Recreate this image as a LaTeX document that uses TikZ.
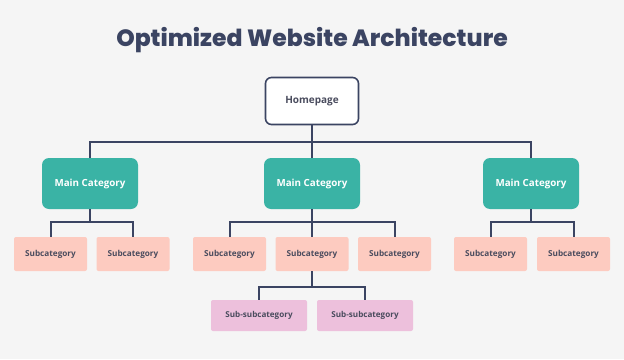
\documentclass[tikz,border=0pt]{standalone}
\usepackage{fontspec}
\setmainfont{Open Sans}[BoldFont={Open Sans Bold}]
\newfontfamily\titlefont{Poppins}[BoldFont={Poppins ExtraBold}]
\usetikzlibrary{positioning}

\definecolor{bgGrey}{HTML}{F5F5F5}
\definecolor{navy}{HTML}{3B4462}
\definecolor{teal}{HTML}{3AB3A5}
\definecolor{salmon}{HTML}{FDCBC0}
\definecolor{orchid}{HTML}{EDC0DC}
\definecolor{labelGrey}{HTML}{4A4C5E}

\tikzset{
  link/.style={draw=navy, line width=2pt},
  homebox/.style={draw=navy, line width=1.6pt, fill=white, rounded corners=6pt,
    minimum width=93pt, minimum height=47pt, font=\bfseries\fontsize{10}{12}\selectfont, text=labelGrey},
  mainbox/.style={fill=teal, rounded corners=7pt, minimum width=96pt, minimum height=51pt,
    font=\bfseries\fontsize{9.8}{12}\selectfont, text=white},
  subbox/.style={fill=salmon, rounded corners=2pt, minimum width=73pt, minimum height=34pt,
    font=\bfseries\fontsize{8.2}{10}\selectfont, text=labelGrey},
  subsubbox/.style={fill=orchid, rounded corners=2pt, minimum width=96pt, minimum height=31pt,
    font=\bfseries\fontsize{8.1}{10}\selectfont, text=labelGrey},
}

\begin{document}
\begin{tikzpicture}[x=1pt, y=-1pt]
        \useasboundingbox (0,0) rectangle (624,359);
        \fill[bgGrey] (0,0) rectangle (624,359);

        % title
        \node[text=navy, font=\titlefont\bfseries\fontsize{23.5}{26}\selectfont] (title) at (312,40) {Optimized Website Architecture};

        % top level
        \node[homebox] (home) at (312,101) {Homepage};

        \node[mainbox] (catL) at (90,183.5) {Main Category};
        \node[mainbox] (catM) at (312,183.5) {Main Category};
        \node[mainbox] (catR) at (531,183.5) {Main Category};

        % subcategories
        \node[subbox] (subL1) at (50.5,254) {Subcategory};
        \node[subbox] (subL2) at (133,254) {Subcategory};

        \node[subbox] (subM1) at (229.5,254) {Subcategory};
        \node[subbox] (subM2) at (312,254) {Subcategory};
        \node[subbox] (subM3) at (394.5,254) {Subcategory};

        \node[subbox] (subR1) at (490.5,254) {Subcategory};
        \node[subbox] (subR2) at (573.5,254) {Subcategory};

        % sub-subcategories
        \node[subsubbox] (ssub1) at (259,315.5) {Sub-subcategory};
        \node[subsubbox] (ssub2) at (365,315.5) {Sub-subcategory};

        % connectors
        \draw[link] (home.south) -- ++(0,17) -| (catL.north);
        \draw[link] (home.south) -- ++(0,17) -| (catR.north);
        \draw[link] (home.south) -- (catM.north);

        \draw[link] (catL.south) -- ++(0,13) -| (subL1.north);
        \draw[link] (catL.south) -- ++(0,13) -| (subL2.north);

        \draw[link] (catM.south) -- ++(0,13) -| (subM1.north);
        \draw[link] (catM.south) -- ++(0,13) -| (subM3.north);
        \draw[link] (catM.south) -- (subM2.north);

        \draw[link] (catR.south) -- ++(0,13) -| (subR1.north);
        \draw[link] (catR.south) -- ++(0,13) -| (subR2.north);

        \draw[link] (subM2.south) -- ++(0,16) -| (ssub1.north);
        \draw[link] (subM2.south) -- ++(0,16) -| (ssub2.north);

\end{tikzpicture}
\end{document}
